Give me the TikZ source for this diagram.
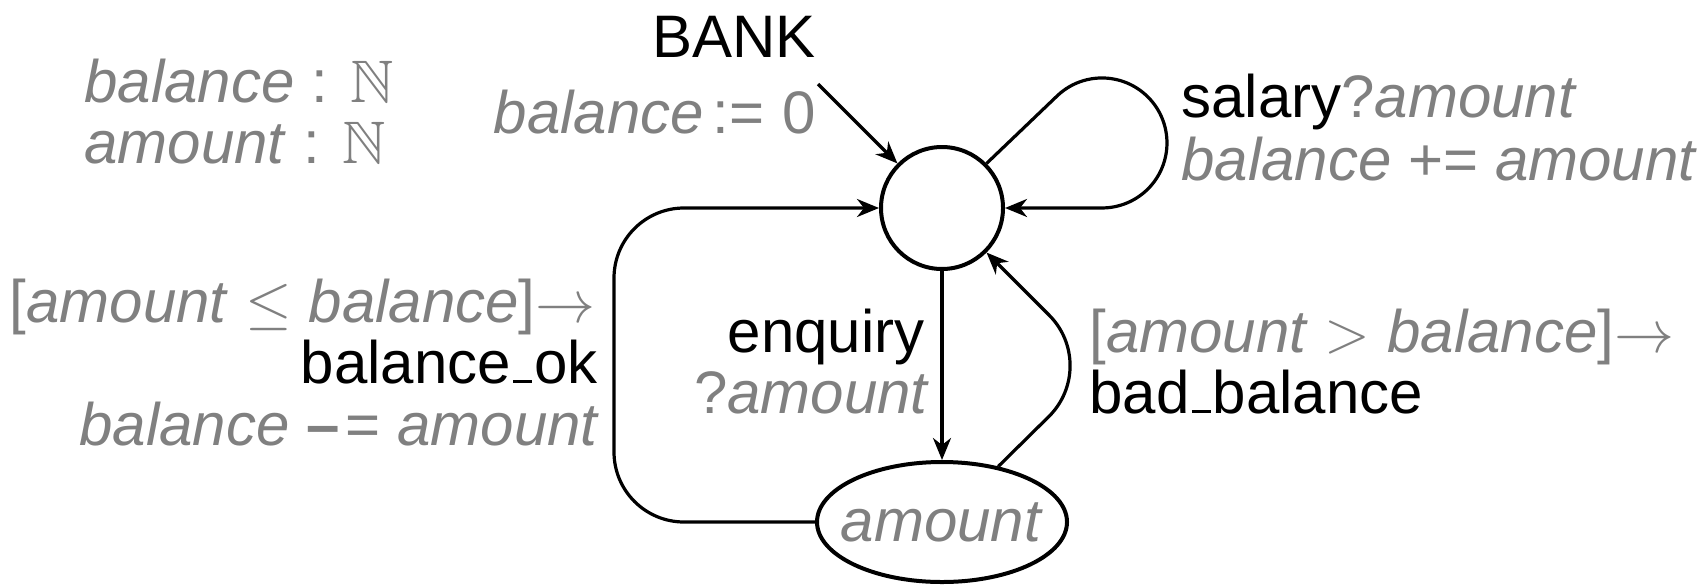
\RequirePackage{fix-cm}
\documentclass[tikz,border=0pt]{standalone}
\DeclareFontFamily{U}{msb}{}
\DeclareFontShape{U}{msb}{m}{n}{<-> msbm10}{}
\usepackage{amssymb}
\usepackage{fontspec}
\setmainfont{Liberation Sans}
\usetikzlibrary{arrows.meta,shapes.geometric}
\definecolor{gr}{gray}{0.5}
\newcommand{\usc}{\kern0.04em\rule{0.31em}{0.05em}\kern0.04em}
\tikzset{
  lbl/.style={inner sep=0pt, font=\fontsize{30}{36}\selectfont},
  g/.style={lbl, text=gr},
  state/.style={draw, line width=2pt, inner sep=0pt},
  arr/.style={line width=1.6pt, -{Stealth[length=11pt,width=9pt,inset=3.5pt]}},
}
\begin{document}
\begin{tikzpicture}[x=0.5pt,y=-0.5pt]
\useasboundingbox (0,0) rectangle (1701,584);
% states
\node[state, circle, minimum size=61pt] (s0) at (942,208) {};
\node[state, ellipse, minimum width=125pt, minimum height=60pt] (amt) at (942,522) {};
\node[g] (amtl) at (942,522) {\textit{amount}};
% declarations
\node[g, anchor=base west] (d1) at (84,102) {\textit{balance} : $\mathbb{N}$};
\node[g, anchor=base west] (d2) at (84,163) {\textit{amount} : $\mathbb{N}$};
% initial
\node[lbl, anchor=base east] (bank) at (816,57) {BANK};
\node[g, anchor=base east] (init) at (816,133) {\textit{balance}\hspace{0.14em}:=\hspace{0.3em}0};
\coordinate (bs) at (818,84);
\draw[arr] (bs) -- (s0);
% salary loop
\node[lbl, anchor=base west] (sal1) at (1181,117) {salary{\color{gr}?\textit{amount}}};
\node[g, anchor=base west] (sal2) at (1181,180) {\textit{balance} += \textit{amount}};
\coordinate (la) at (1056,97);
\draw[arr] (s0.45) -- (la) arc[start angle=225, end angle=450, radius=65] -- (s0.east);
% enquiry
\node[lbl, anchor=base east] (enq1) at (925,352) {enquiry};
\node[g, anchor=base east] (enq2) at (930,413) {?\textit{amount}};
\draw[arr] (s0.south) -- (amt.north);
% bad balance
\node[g, anchor=base west] (bad1) at (1089,352) {[\textit{amount} $>$ \textit{balance}]$\rightarrow$};
\node[lbl, anchor=base west] (bad2) at (1089,413) {bad\usc balance};
\coordinate (bc) at (1100,366);
\draw[arr, rounded corners=36pt] (amt) -- (bc) -- (s0);
% balance ok
\node[g, anchor=base east] (ok1) at (596,322) {[\textit{amount} $\leq$ \textit{balance}]$\rightarrow$};
\node[lbl, anchor=base east] (ok2) at (598,383) {balance\usc ok};
\node[g, anchor=base east] (ok3) at (600,445) {\textit{balance} \textbf{\textendash}\kern0.1em= \textit{amount}};
\coordinate (c1) at (614,522);
\coordinate (c2) at (614,208);
\draw[arr, rounded corners=35pt] (amt.west) -- (c1) -- (c2) -- (s0.west);
\end{tikzpicture}
\end{document}
